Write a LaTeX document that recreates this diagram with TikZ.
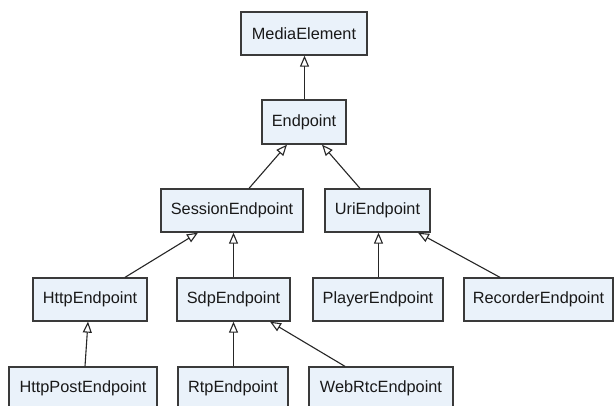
\documentclass[tikz,border=0pt]{standalone}
\usepackage{fontspec}
\setmainfont{Liberation Sans}
\usetikzlibrary{arrows.meta}
\definecolor{boxfill}{HTML}{EAF2FA}
\definecolor{boxline}{HTML}{3A3A3A}
\tikzset{
  cls/.style={draw=boxline, line width=1.3pt, fill=boxfill, minimum height=43pt,
    inner sep=0pt, font=\fontsize{16.3}{19}\selectfont, text=black!90},
  inherit/.style={draw=black!85, line width=1.1pt,
    -{Triangle[length=11pt,width=9pt,fill=white,line width=1.1pt]}}
}
\begin{document}
\begin{tikzpicture}[x=1pt,y=-1pt]
\useasboundingbox (0,0) rectangle (614,405);
\clip (0,0) rectangle (614,405);
\fill[white] (0,0) rectangle (614,405);
\node[cls, minimum width=126pt] (ME) at (304,33.5) {MediaElement};
\node[cls, minimum width=84pt, minimum height=44pt] (EP) at (304,122) {Endpoint};
\node[cls, minimum width=142pt] (SE) at (232,210.5) {SessionEndpoint};
\node[cls, minimum width=105pt] (UE) at (377.5,210.5) {UriEndpoint};
\node[cls, minimum width=114pt] (HE) at (90,299.5) {HttpEndpoint};
\node[cls, minimum width=113pt] (SdE) at (233.5,299.5) {SdpEndpoint};
\node[cls, minimum width=130pt] (PE) at (378,299.5) {PlayerEndpoint};
\node[cls, minimum width=149pt] (RE) at (538.5,299.5) {RecorderEndpoint};
\node[cls, minimum width=148pt] (HPE) at (83,388.5) {HttpPostEndpoint};
\node[cls, minimum width=110pt] (RtpE) at (233,388.5) {RtpEndpoint};
\node[cls, minimum width=144pt] (WRE) at (381,388.5) {WebRtcEndpoint};

\draw[inherit] ([xshift=0.5pt]EP.north) -- ([xshift=0.5pt]ME.south);
\draw[inherit] ([xshift=17pt]SE.north) -- ([xshift=-17pt]EP.south);
\draw[inherit] ([xshift=-17.5pt]UE.north) -- ([xshift=18pt]EP.south);
\draw[inherit] ([xshift=35pt]HE.north) -- ([xshift=-34pt]SE.south);
\draw[inherit] (SdE.north) -- (SdE.north |- SE.south);
\draw[inherit] ([xshift=0.5pt]PE.north) -- ([xshift=0.5pt]PE.north |- UE.south);
\draw[inherit] ([xshift=-38.5pt]RE.north) -- ([xshift=40.5pt]UE.south);
\draw[inherit] ([xshift=2pt]HPE.north) -- ([xshift=-2pt]HE.south);
\draw[inherit] ([xshift=0.5pt]RtpE.north) -- ([xshift=0.5pt]RtpE.north |- SdE.south);
\draw[inherit] ([xshift=-36pt]WRE.north) -- ([xshift=36.5pt]SdE.south);
\end{tikzpicture}
\end{document}
